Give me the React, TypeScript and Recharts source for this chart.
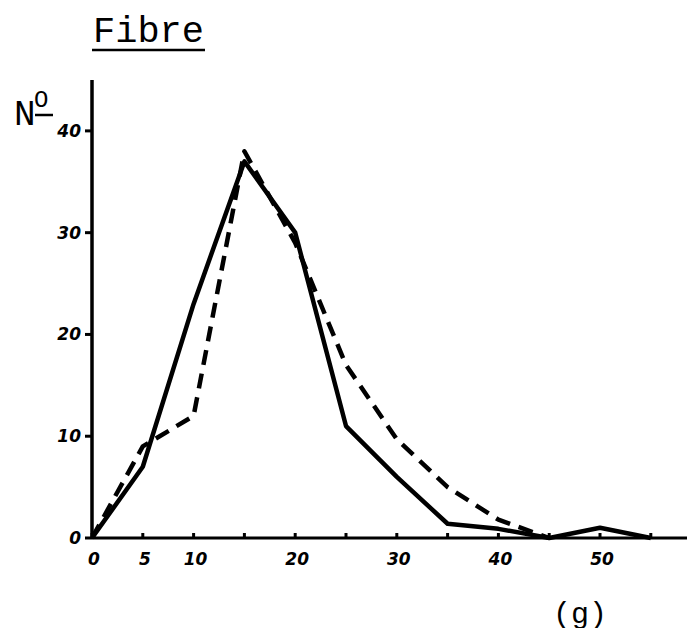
import React from "react";
import { LineChart, Line, XAxis, YAxis } from "recharts";

// weight classes (g) and counts
const weights = [0, 5, 10, 15, 20, 25, 30, 35, 40, 45, 50, 55];
const solidCounts = [0, 7, 23, 37, 30, 11, 6, 1.4, 0.9, 0, 1, 0];
const dashedCounts = [0, 9, 12, 38, 29, 17, 9.7, 5, 1.8, 0, null, null];

const xTicks = [0, 5, 10, 15, 20, 25, 30, 35, 40, 45, 50, 55];
const xTickLabels = [0, 5, 10, 20, 30, 40, 50];
const yTicks = [0, 10, 20, 30, 40];

const data = weights.map((w, i) => ({
  w,
  solid: solidCounts[i],
  dashed: dashedCounts[i],
}));

const handFont = {
  fontFamily: "DejaVu Sans",
  fontStyle: "italic" as const,
  fontWeight: 700,
  fontSize: 17,
};

const XTick = (props: any) => {
  const { x, y, payload } = props;
  const v = payload.value;
  return (
    <g>
      <line x1={x} x2={x} y1={y} y2={y - 5} stroke="#000" strokeWidth={3} />
      {xTickLabels.includes(v) && (
        <text x={x + 2} y={y + 27} textAnchor="middle" fill="#000" style={handFont}>
          {v}
        </text>
      )}
    </g>
  );
};

const YTick = (props: any) => {
  const { x, y, payload } = props;
  return (
    <g>
      <line x1={x - 7} x2={x} y1={y} y2={y} stroke="#000" strokeWidth={3} />
      <text x={x - 11} y={y + 6} textAnchor="end" fill="#000" style={handFont}>
        {payload.value}
      </text>
    </g>
  );
};

const mono = { fontFamily: "Liberation Mono", fill: "#000" };

export default function App() {
  return (
    <div style={{ position: "relative", width: 687, height: 620, background: "#fff" }}>
      <LineChart
        width={687}
        height={620}
        data={data}
        margin={{ top: 72, right: 0, bottom: 50, left: 0 }}
      >
        <XAxis
          dataKey="w"
          type="number"
          domain={[0, 59.35]}
          ticks={xTicks}
          allowDataOverflow
          height={40}
          tickSize={0}
          tickMargin={0}
          tickLine={false}
          axisLine={{ stroke: "#000", strokeWidth: 3 }}
          tick={<XTick />}
          interval={0}
        />
        <YAxis
          type="number"
          domain={[0, 45]}
          ticks={yTicks}
          width={84}
          tickSize={0}
          tickMargin={0}
          tickLine={false}
          axisLine={{ stroke: "#000", strokeWidth: 3.5 }}
          tick={<YTick />}
          interval={0}
        />
        <Line
          type="linear"
          dataKey="dashed"
          stroke="#000"
          strokeWidth={4.5}
          strokeDasharray="15 9"
          strokeLinejoin="round"
          dot={false}
          connectNulls={false}
          isAnimationActive={false}
        />
        <Line
          type="linear"
          dataKey="solid"
          stroke="#000"
          strokeWidth={4.5}
          strokeLinejoin="round"
          dot={false}
          isAnimationActive={false}
        />
      </LineChart>
      <svg
        width={687}
        height={620}
        style={{ position: "absolute", left: 0, top: 0, overflow: "visible", pointerEvents: "none" }}
      >
        <text x={85} y={34} style={{ ...mono, fontSize: 37 }}>
          Fibre
        </text>
        <line x1={84} x2={197} y1={42} y2={42} stroke="#000" strokeWidth={2.5} />
        <text x={6} y={117} style={{ ...mono, fontSize: 36 }}>
          N
        </text>
        <text x={26} y={99} style={{ ...mono, fontSize: 24 }}>
          O
        </text>
        <line x1={27} x2={45} y1={107} y2={107} stroke="#000" strokeWidth={2.5} />
        <text x={545} y={615} style={{ ...mono, fontSize: 30 }}>
          (g)
        </text>
      </svg>
    </div>
  );
}
